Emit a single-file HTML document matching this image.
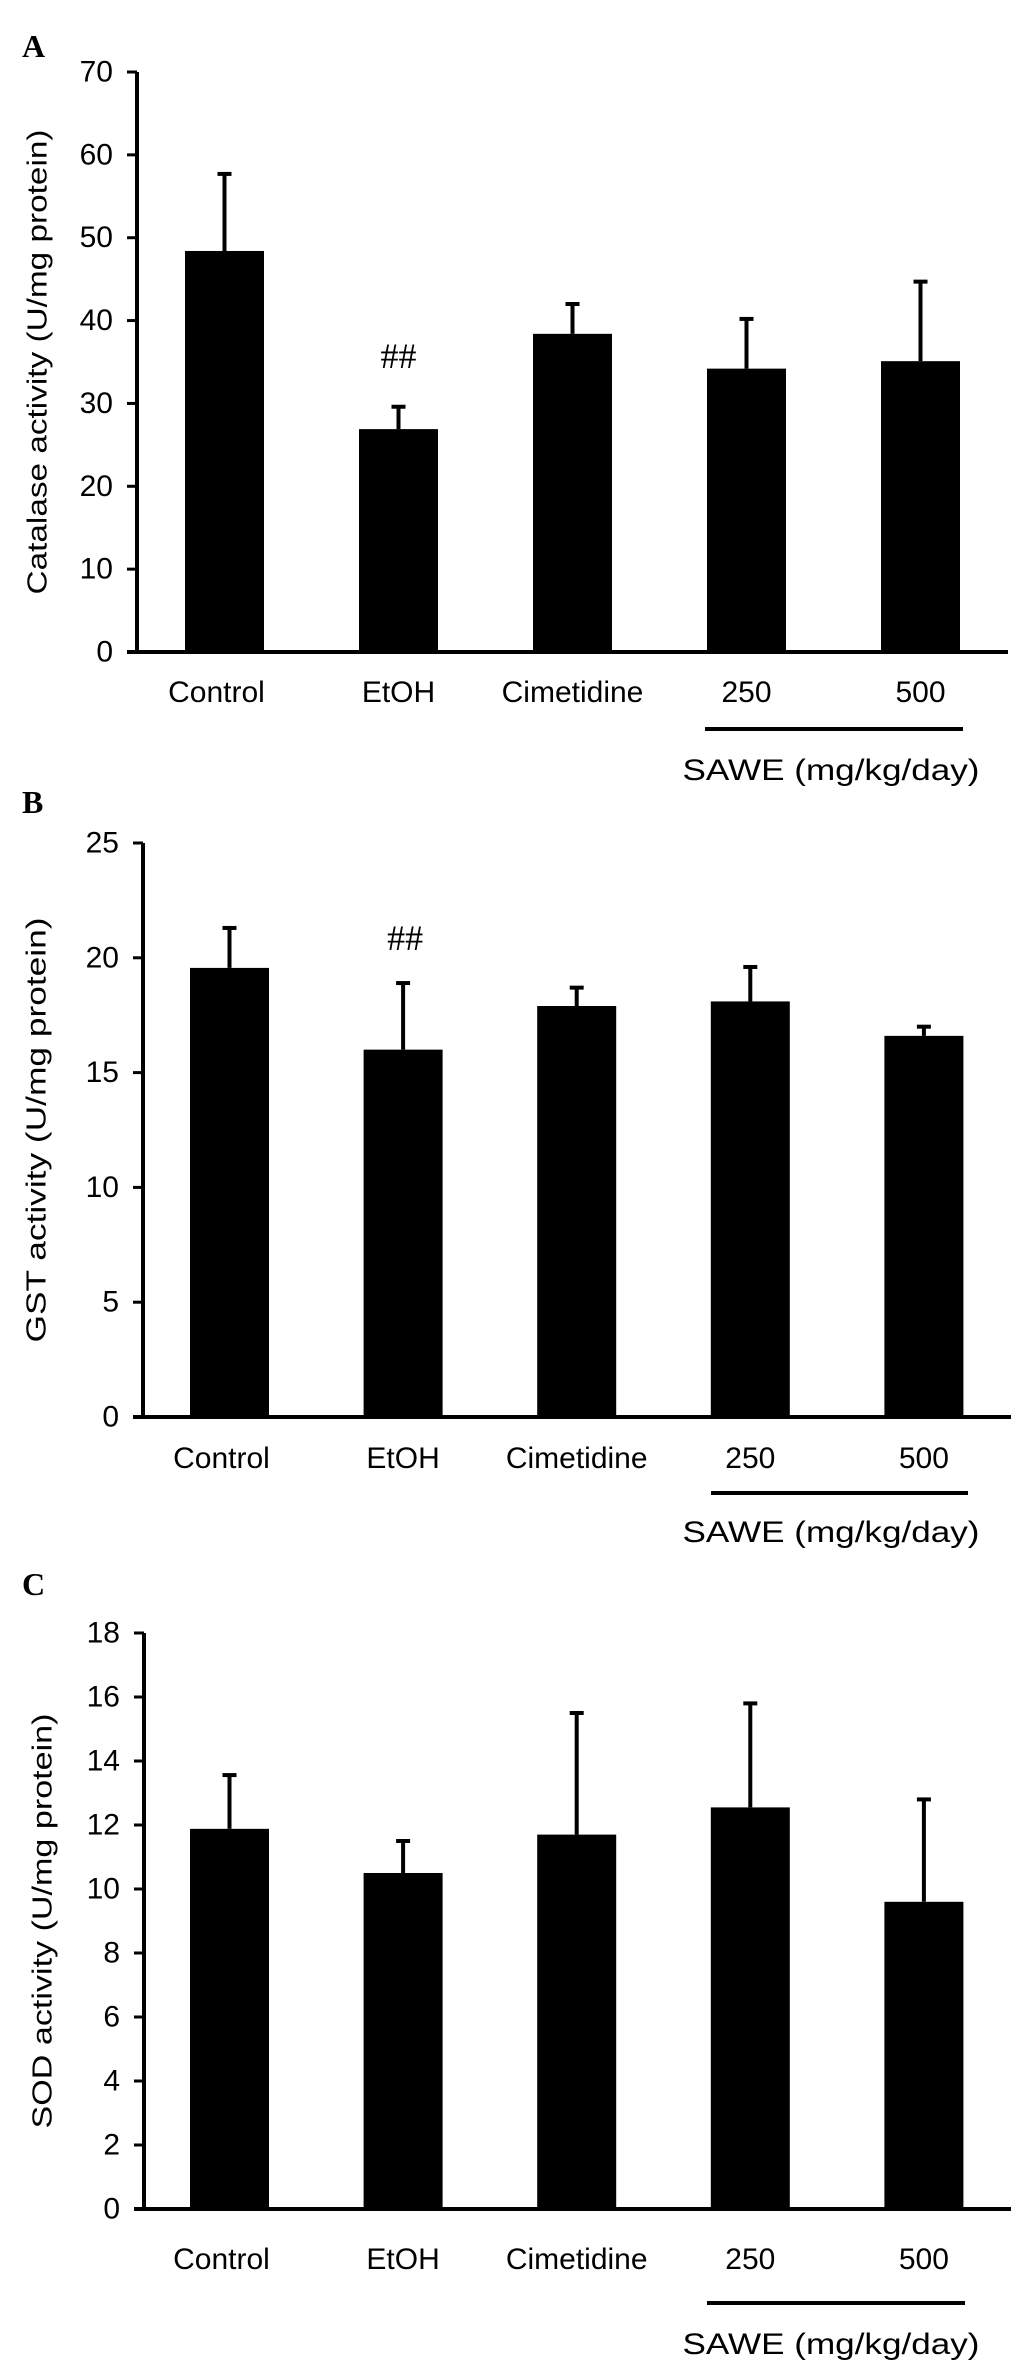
<!DOCTYPE html>
<html><head><meta charset="utf-8"><style>
html,body{margin:0;padding:0;background:#fff;}
svg{display:block;}
text{font-family:"Liberation Sans",Arial,sans-serif;fill:#000;}
.serif{font-family:"Liberation Serif","Times New Roman",serif;}
</style></head><body>
<svg id="fig" width="1033" height="2376" viewBox="0 0 1033 2376" xmlns="http://www.w3.org/2000/svg"></svg>
<script>
const categories = ["Control","EtOH","Cimetidine","250","500"];
const catalaseMeans = [48.4, 26.9, 38.4, 34.2, 35.1];
const catalaseErr = [57.7, 29.6, 42.0, 40.2, 44.7];
const catalaseTicks = [0,10,20,30,40,50,60,70];
const gstMeans = [19.56, 16.0, 17.9, 18.1, 16.6];
const gstErr = [21.3, 18.9, 18.7, 19.6, 17.0];
const gstTicks = [0,5,10,15,20,25];
const sodMeans = [11.88, 10.5, 11.7, 12.55, 9.6];
const sodErr = [13.56, 11.5, 15.5, 15.8, 12.8];
const sodTicks = [0,2,4,6,8,10,12,14,16,18];

const NS = "http://www.w3.org/2000/svg";
const svg = document.getElementById("fig");
function mk(tag, attrs, parent){
  const e = document.createElementNS(NS, tag);
  for (const k in attrs) e.setAttribute(k, attrs[k]);
  (parent||svg).appendChild(e);
  return e;
}

const panels = [
  {key:"catalase", letter:"A", letterY:57, means:catalaseMeans, err:catalaseErr, ticks:catalaseTicks, max:70,
   axisX:137, top:72, zero:652, x0:224.5, step:174, axisEnd:1008, labelY:702, lineY:729, lineX1:705, lineX2:963, sawY:780,
   title:"Catalase activity (U/mg protein)", titleX:37, titleLen:465, hash:[1, 368]},
  {key:"gst", letter:"B", letterY:813, means:gstMeans, err:gstErr, ticks:gstTicks, max:25,
   axisX:143, top:843, zero:1417, x0:229.5, step:173.6, axisEnd:1011, labelY:1468, lineY:1493, lineX1:711, lineX2:968, sawY:1542,
   title:"GST activity (U/mg protein)", titleX:36, titleLen:425, hash:[1, 950]},
  {key:"sod", letter:"C", letterY:1595, means:sodMeans, err:sodErr, ticks:sodTicks, max:18,
   axisX:144, top:1633, zero:2209, x0:229.5, step:173.6, axisEnd:1011, labelY:2269, lineY:2303, lineX1:707, lineX2:965, sawY:2354,
   title:"SOD activity (U/mg protein)", titleX:42, titleLen:415, hash:null}
];

panels.forEach(p => {
  const g = mk("g", {});
  
  
  const yScale = v => p.zero - (v / p.max) * (p.zero - p.top);
  const xScale = i => p.x0 + i * p.step;

  const lt = mk("text", {x:22, y:p.letterY, "font-size":32, "font-weight":"bold", class:"serif"}, g);
  lt.textContent = p.letter;
  
  

  const cy = (p.top + p.zero) / 2;
  const tt = mk("text", {x:p.titleX, y:cy, "font-size":28, "text-anchor":"middle", "dominant-baseline":"central",
    transform:`rotate(-90 ${p.titleX} ${cy})`, textLength:p.titleLen, lengthAdjust:"spacingAndGlyphs"}, g);
  tt.textContent = p.title;
  
  

  p.means.forEach((v, i) => {
    const cx = xScale(i);
    const eb = mk("line", {x1:cx, x2:cx, y1:yScale(v), y2:yScale(p.err[i]), stroke:"#000", "stroke-width":4}, g);
    
    
    const cap = mk("line", {x1:cx-7, x2:cx+7, y1:yScale(p.err[i]), y2:yScale(p.err[i]), stroke:"#000", "stroke-width":4}, g);
    
    
    const bar = mk("rect", {x:cx-39.5, y:yScale(v), width:79, height:p.zero - yScale(v), fill:"#000"}, g);
    
    
    const lb = mk("text", {x:cx - (i===0?8:0), y:p.labelY, "font-size":30, "text-anchor":"middle"}, g);
    lb.textContent = categories[i];
    
    
  });

  const ya = mk("line", {x1:p.axisX, x2:p.axisX, y1:p.top, y2:p.zero+2, stroke:"#000", "stroke-width":4}, g);
  
  
  const xa = mk("line", {x1:p.axisX-10, x2:p.axisEnd, y1:p.zero, y2:p.zero, stroke:"#000", "stroke-width":4}, g);
  
  

  p.ticks.forEach(t => {
    const y = yScale(t);
    const tk = mk("line", {x1:p.axisX-10, x2:p.axisX, y1:y, y2:y, stroke:"#000", "stroke-width":3}, g);
    
    
    const tl = mk("text", {x:p.axisX-24, y:y, "font-size":30, "text-anchor":"end", "dominant-baseline":"central"}, g);
    tl.textContent = t;
    
    
  });

  if (p.hash) {
    const h = mk("text", {x:xScale(p.hash[0]) + (p.key==="gst"?2:0), y:p.hash[1], "font-size":36, "text-anchor":"middle", class:"serif"}, g);
    h.textContent = "##";
    
    
  }

  const sl = mk("line", {x1:p.lineX1, x2:p.lineX2, y1:p.lineY, y2:p.lineY, stroke:"#000", "stroke-width":4}, g);
  
  
  const st = mk("text", {x:831, y:p.sawY, "font-size":30, "text-anchor":"middle", textLength:297, lengthAdjust:"spacingAndGlyphs"}, g);
  st.textContent = "SAWE (mg/kg/day)";
  
  
});
</script>
</body></html>
